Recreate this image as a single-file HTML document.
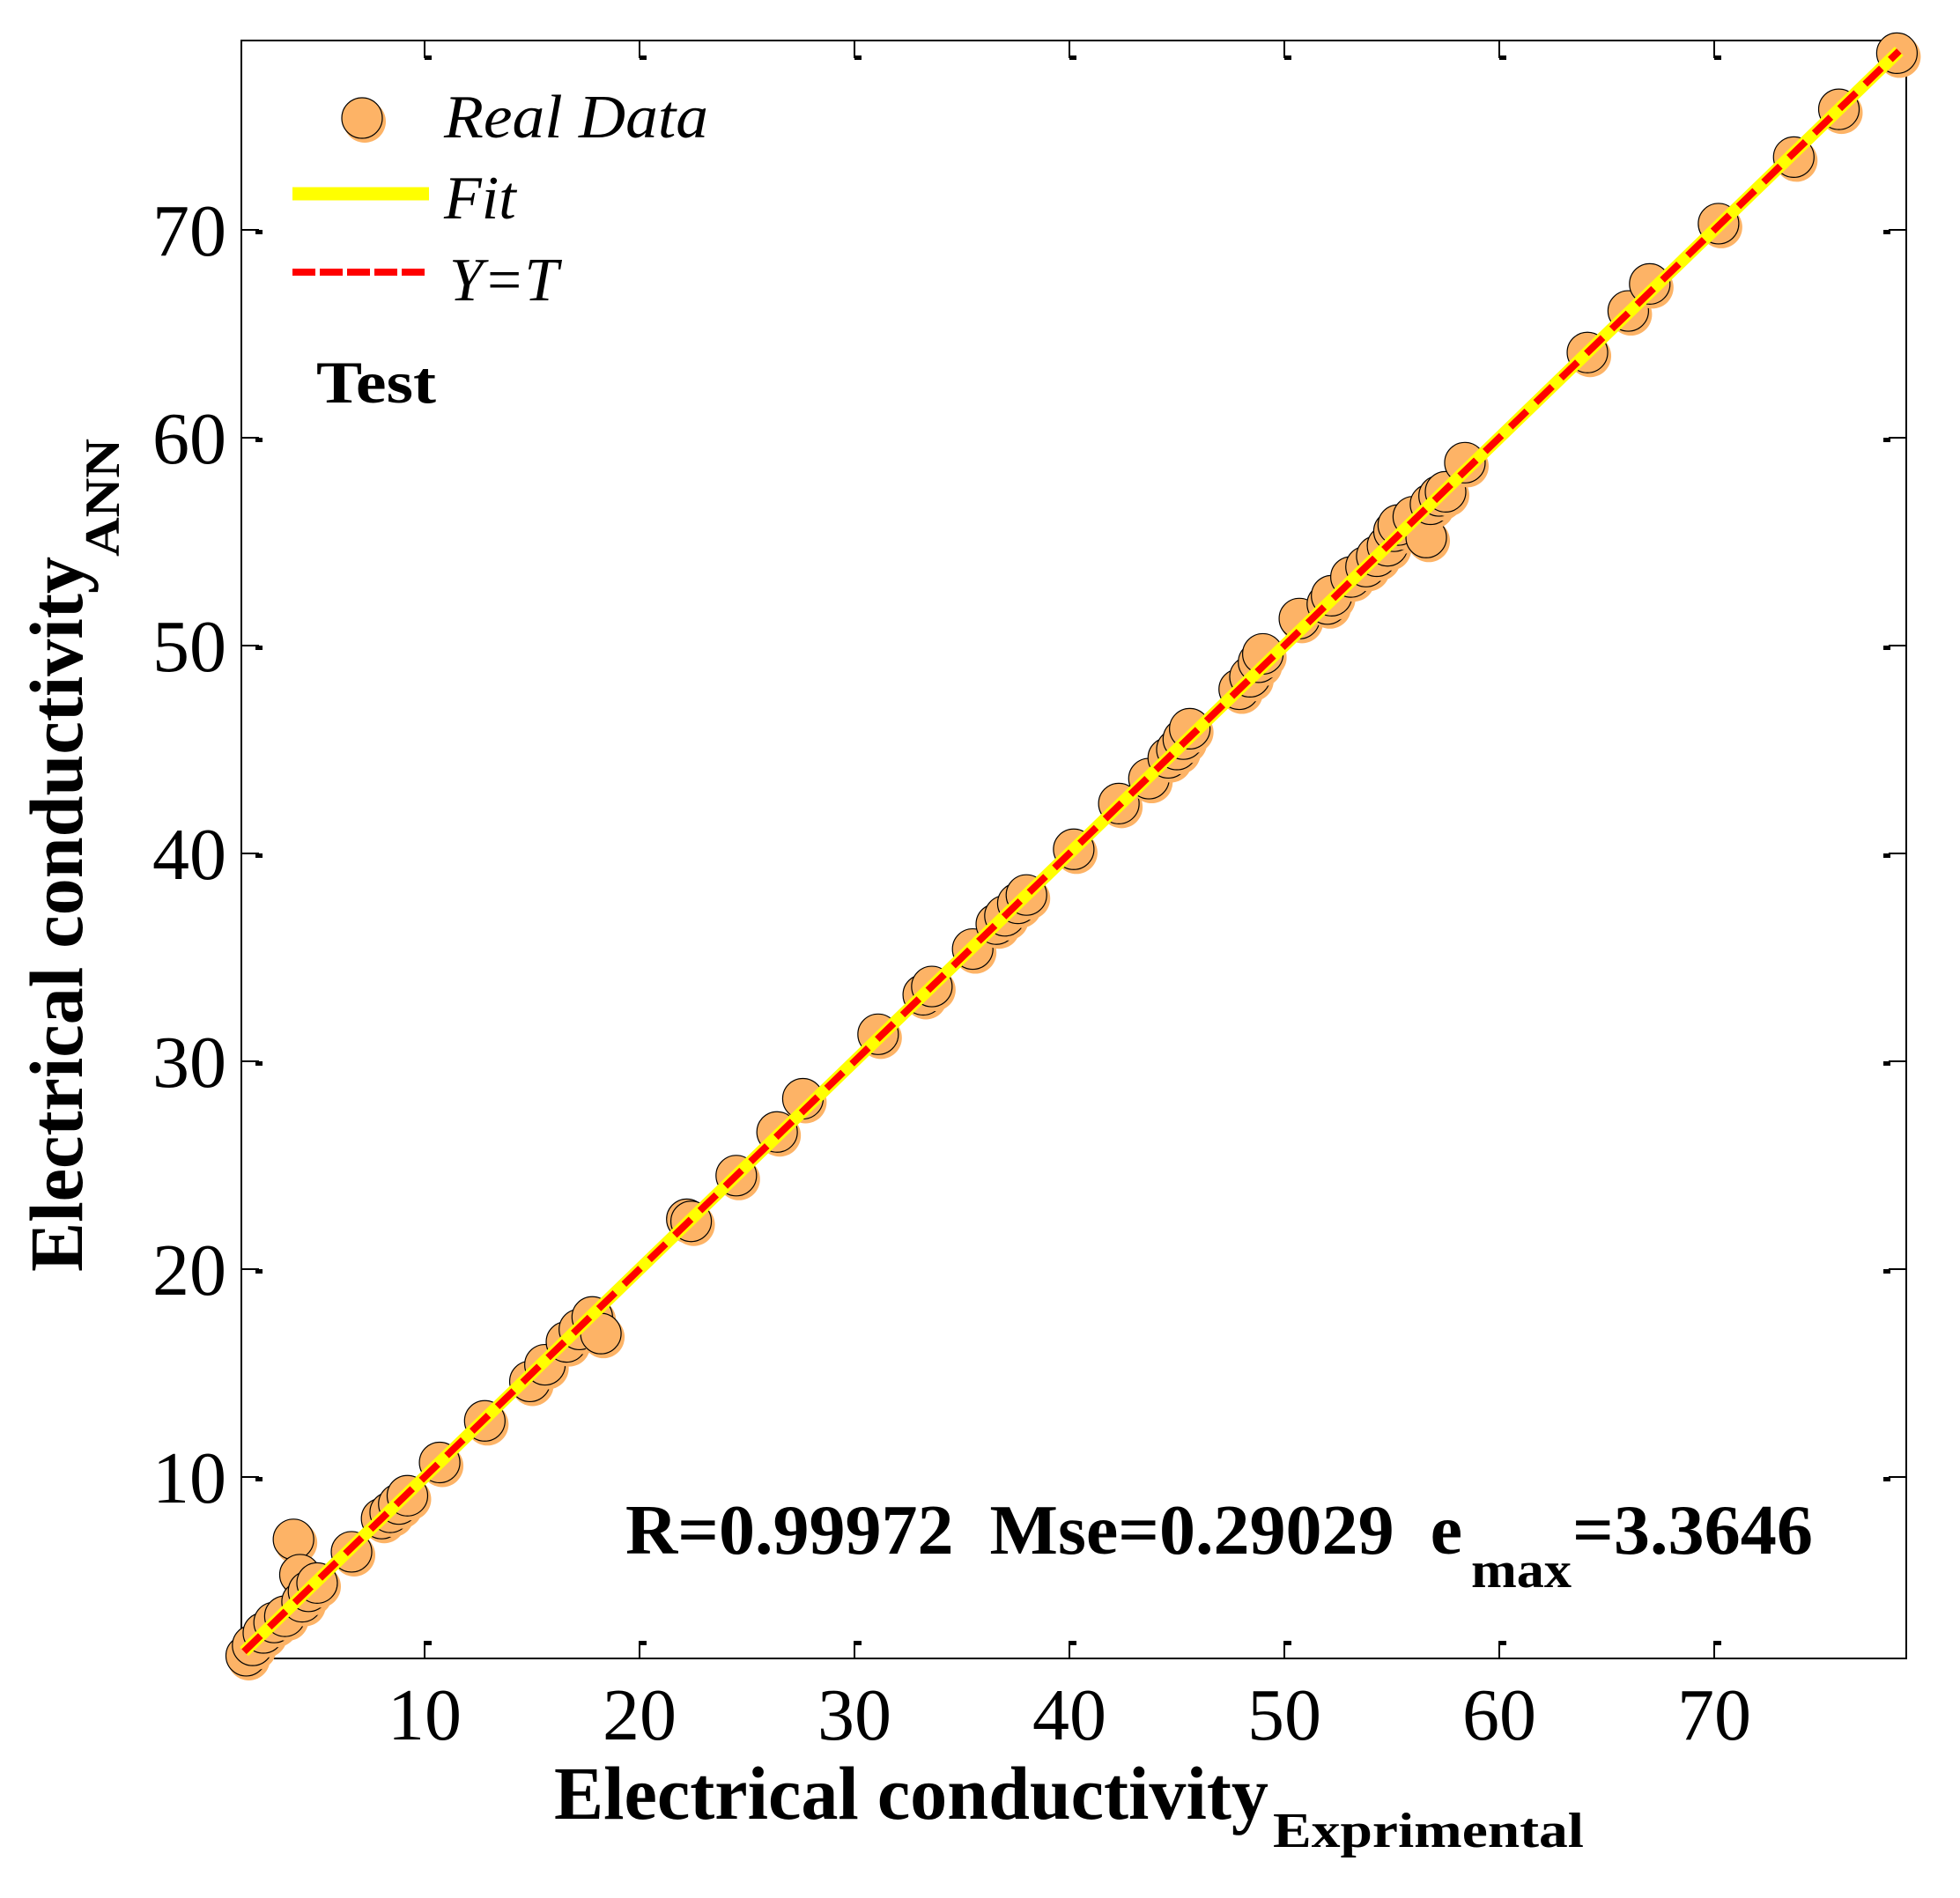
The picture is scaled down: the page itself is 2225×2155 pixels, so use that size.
<!DOCTYPE html>
<html><head><meta charset="utf-8"><style>
html,body{margin:0;padding:0;background:#fff;}
svg{display:block;}
text{font-family:"Liberation Serif",serif;fill:#000;}
</style></head><body>
<svg id="s" width="2225" height="2155" viewBox="0 0 2225 2155" xmlns="http://www.w3.org/2000/svg">
<rect width="2225" height="2155" fill="#fff"/>
<g id="ticks"></g>
<rect x="274" y="46" width="1890" height="1837" fill="none" stroke="#000" stroke-width="2"/>
<g id="pts"></g>
<line id="fit" stroke="#ffff00" stroke-width="14"/>
<line id="yt" stroke="#ff0000" stroke-width="8" stroke-dasharray="26,14"/>
<g font-size="84" text-anchor="end" id="ylab"></g>
<g font-size="84" text-anchor="middle" id="xlab"></g>
<!-- legend -->
<circle cx="414" cy="138" r="24" fill="#fdb366"/>
<circle cx="411" cy="134" r="23" fill="#fdb366" stroke="#000" stroke-width="1.2"/>
<text x="504" y="156" font-size="70" font-style="italic" textLength="300" lengthAdjust="spacingAndGlyphs">Real Data</text>
<line x1="332" y1="220" x2="487" y2="220" stroke="#ffff00" stroke-width="15"/>
<text x="504" y="248" font-size="70" font-style="italic">Fit</text>
<line x1="332" y1="309" x2="487" y2="309" stroke="#ff0000" stroke-width="8" stroke-dasharray="26,5"/>
<text x="510" y="341" font-size="70" font-style="italic" textLength="124" lengthAdjust="spacingAndGlyphs">Y=T</text>
<text x="359" y="457" font-size="68" font-weight="bold" textLength="136" lengthAdjust="spacingAndGlyphs">Test</text>
<!-- stats -->
<text x="710" y="1764" font-size="80" font-weight="bold" style="white-space:pre" textLength="950" lengthAdjust="spacingAndGlyphs">R=0.99972&#160;&#160;Mse=0.29029&#160;&#160;e</text>
<text x="1670" y="1802" font-size="58" font-weight="bold" textLength="114" lengthAdjust="spacingAndGlyphs">max</text>
<text x="1785" y="1764" font-size="80" font-weight="bold" textLength="273" lengthAdjust="spacingAndGlyphs">=3.3646</text>
<!-- x title -->
<text x="629" y="2065" font-size="86" font-weight="bold" textLength="811" lengthAdjust="spacingAndGlyphs">Electrical conductivity</text>
<text x="1445" y="2097" font-size="56" font-weight="bold" textLength="353" lengthAdjust="spacingAndGlyphs">Exprimental</text>
<!-- y title -->
<text transform="translate(93,1444) rotate(-90)" font-size="86" font-weight="bold" textLength="812" lengthAdjust="spacingAndGlyphs">Electrical conductivity</text>
<text transform="translate(135,632) rotate(-90)" font-size="56" font-weight="bold" textLength="134" lengthAdjust="spacingAndGlyphs">ANN</text>
</svg>
<script>
var NS="http://www.w3.org/2000/svg";
function X(v){return 482+(v-10)*24.4;}
function Y(v){return 1913-v*23.6;}
function el(t,a,p){var e=document.createElementNS(NS,t);for(var k in a)e.setAttribute(k,a[k]);p.appendChild(e);return e;}
var tk=document.getElementById('ticks');
for(var v=10;v<=70;v+=10){
 var x=X(v),y=Y(v);
 el('line',{x1:x,y1:1883,x2:x,y2:1863,stroke:'#000','stroke-width':2},tk);
 el('rect',{x:x,y:1863,width:8,height:5,fill:'#000'},tk);
 el('line',{x1:x,y1:46,x2:x,y2:66,stroke:'#000','stroke-width':2},tk);
 el('rect',{x:x,y:63,width:8,height:5,fill:'#000'},tk);
 el('line',{x1:274,y1:y,x2:294,y2:y,stroke:'#000','stroke-width':2},tk);
 el('rect',{x:290,y:y,width:8,height:5,fill:'#000'},tk);
 el('line',{x1:2164,y1:y,x2:2144,y2:y,stroke:'#000','stroke-width':2},tk);
 el('rect',{x:2138,y:y,width:8,height:5,fill:'#000'},tk);
 var t=el('text',{x:257,y:y+29},document.getElementById('ylab'));t.textContent=v;
 var t2=el('text',{x:x,y:1975},document.getElementById('xlab'));t2.textContent=v;
}
var d=[[1.7,1.4],[2.0,1.9],[2.5,2.5],[3,3],[3.5,3.3],[3.9,7.0],[4.2,5.3],[4.3,4.0],[4.6,4.5],[5.0,4.9],[6.6,6.4],[8.0,8.0],[8.4,8.3],[8.8,8.7],[9.2,9.1],[10.7,10.7],[12.8,12.7],[14.9,14.6],[15.6,15.4],[16.6,16.5],[17.2,17.1],[17.8,17.7],[18.2,16.9],[22.2,22.4],[22.4,22.3],[24.5,24.5],[26.4,26.6],[27.6,28.2],[31.1,31.3],[33.2,33.2],[33.6,33.6],[35.5,35.4],[36.6,36.6],[37.0,37.0],[37.6,37.6],[38.0,38.0],[40.2,40.2],[42.3,42.4],[43.7,43.6],[44.6,44.6],[45.0,45.0],[45.3,45.5],[45.6,46.0],[47.9,47.9],[48.4,48.5],[48.8,49.2],[49.0,49.6],[50.7,51.3],[52.0,52.0],[52.2,52.4],[53.1,53.3],[53.8,53.8],[54.3,54.3],[54.8,54.8],[55.1,55.5],[55.3,55.8],[56.0,56.2],[56.6,55.2],[56.8,56.8],[57.2,57.2],[57.5,57.4],[58.4,58.8],[64.1,64.1],[66.0,66.1],[67.0,67.4],[70.2,70.3],[73.7,73.5],[75.8,75.8],[78.5,78.5]];
var g=document.getElementById('pts');
d.forEach(function(p){var cx=X(p[0]),cy=Y(p[1]);
 el('circle',{cx:cx+3,cy:cy+4,r:24,fill:'#fdb366'},g);
 el('circle',{cx:cx,cy:cy,r:23,fill:'#fdb366',stroke:'#000','stroke-width':1.2},g);});
['fit','yt'].forEach(function(id){var l=document.getElementById(id);
 l.setAttribute('x1',X(1.6));l.setAttribute('y1',Y(1.6));l.setAttribute('x2',X(78.6));l.setAttribute('y2',Y(78.6));});
</script>
</body></html>
